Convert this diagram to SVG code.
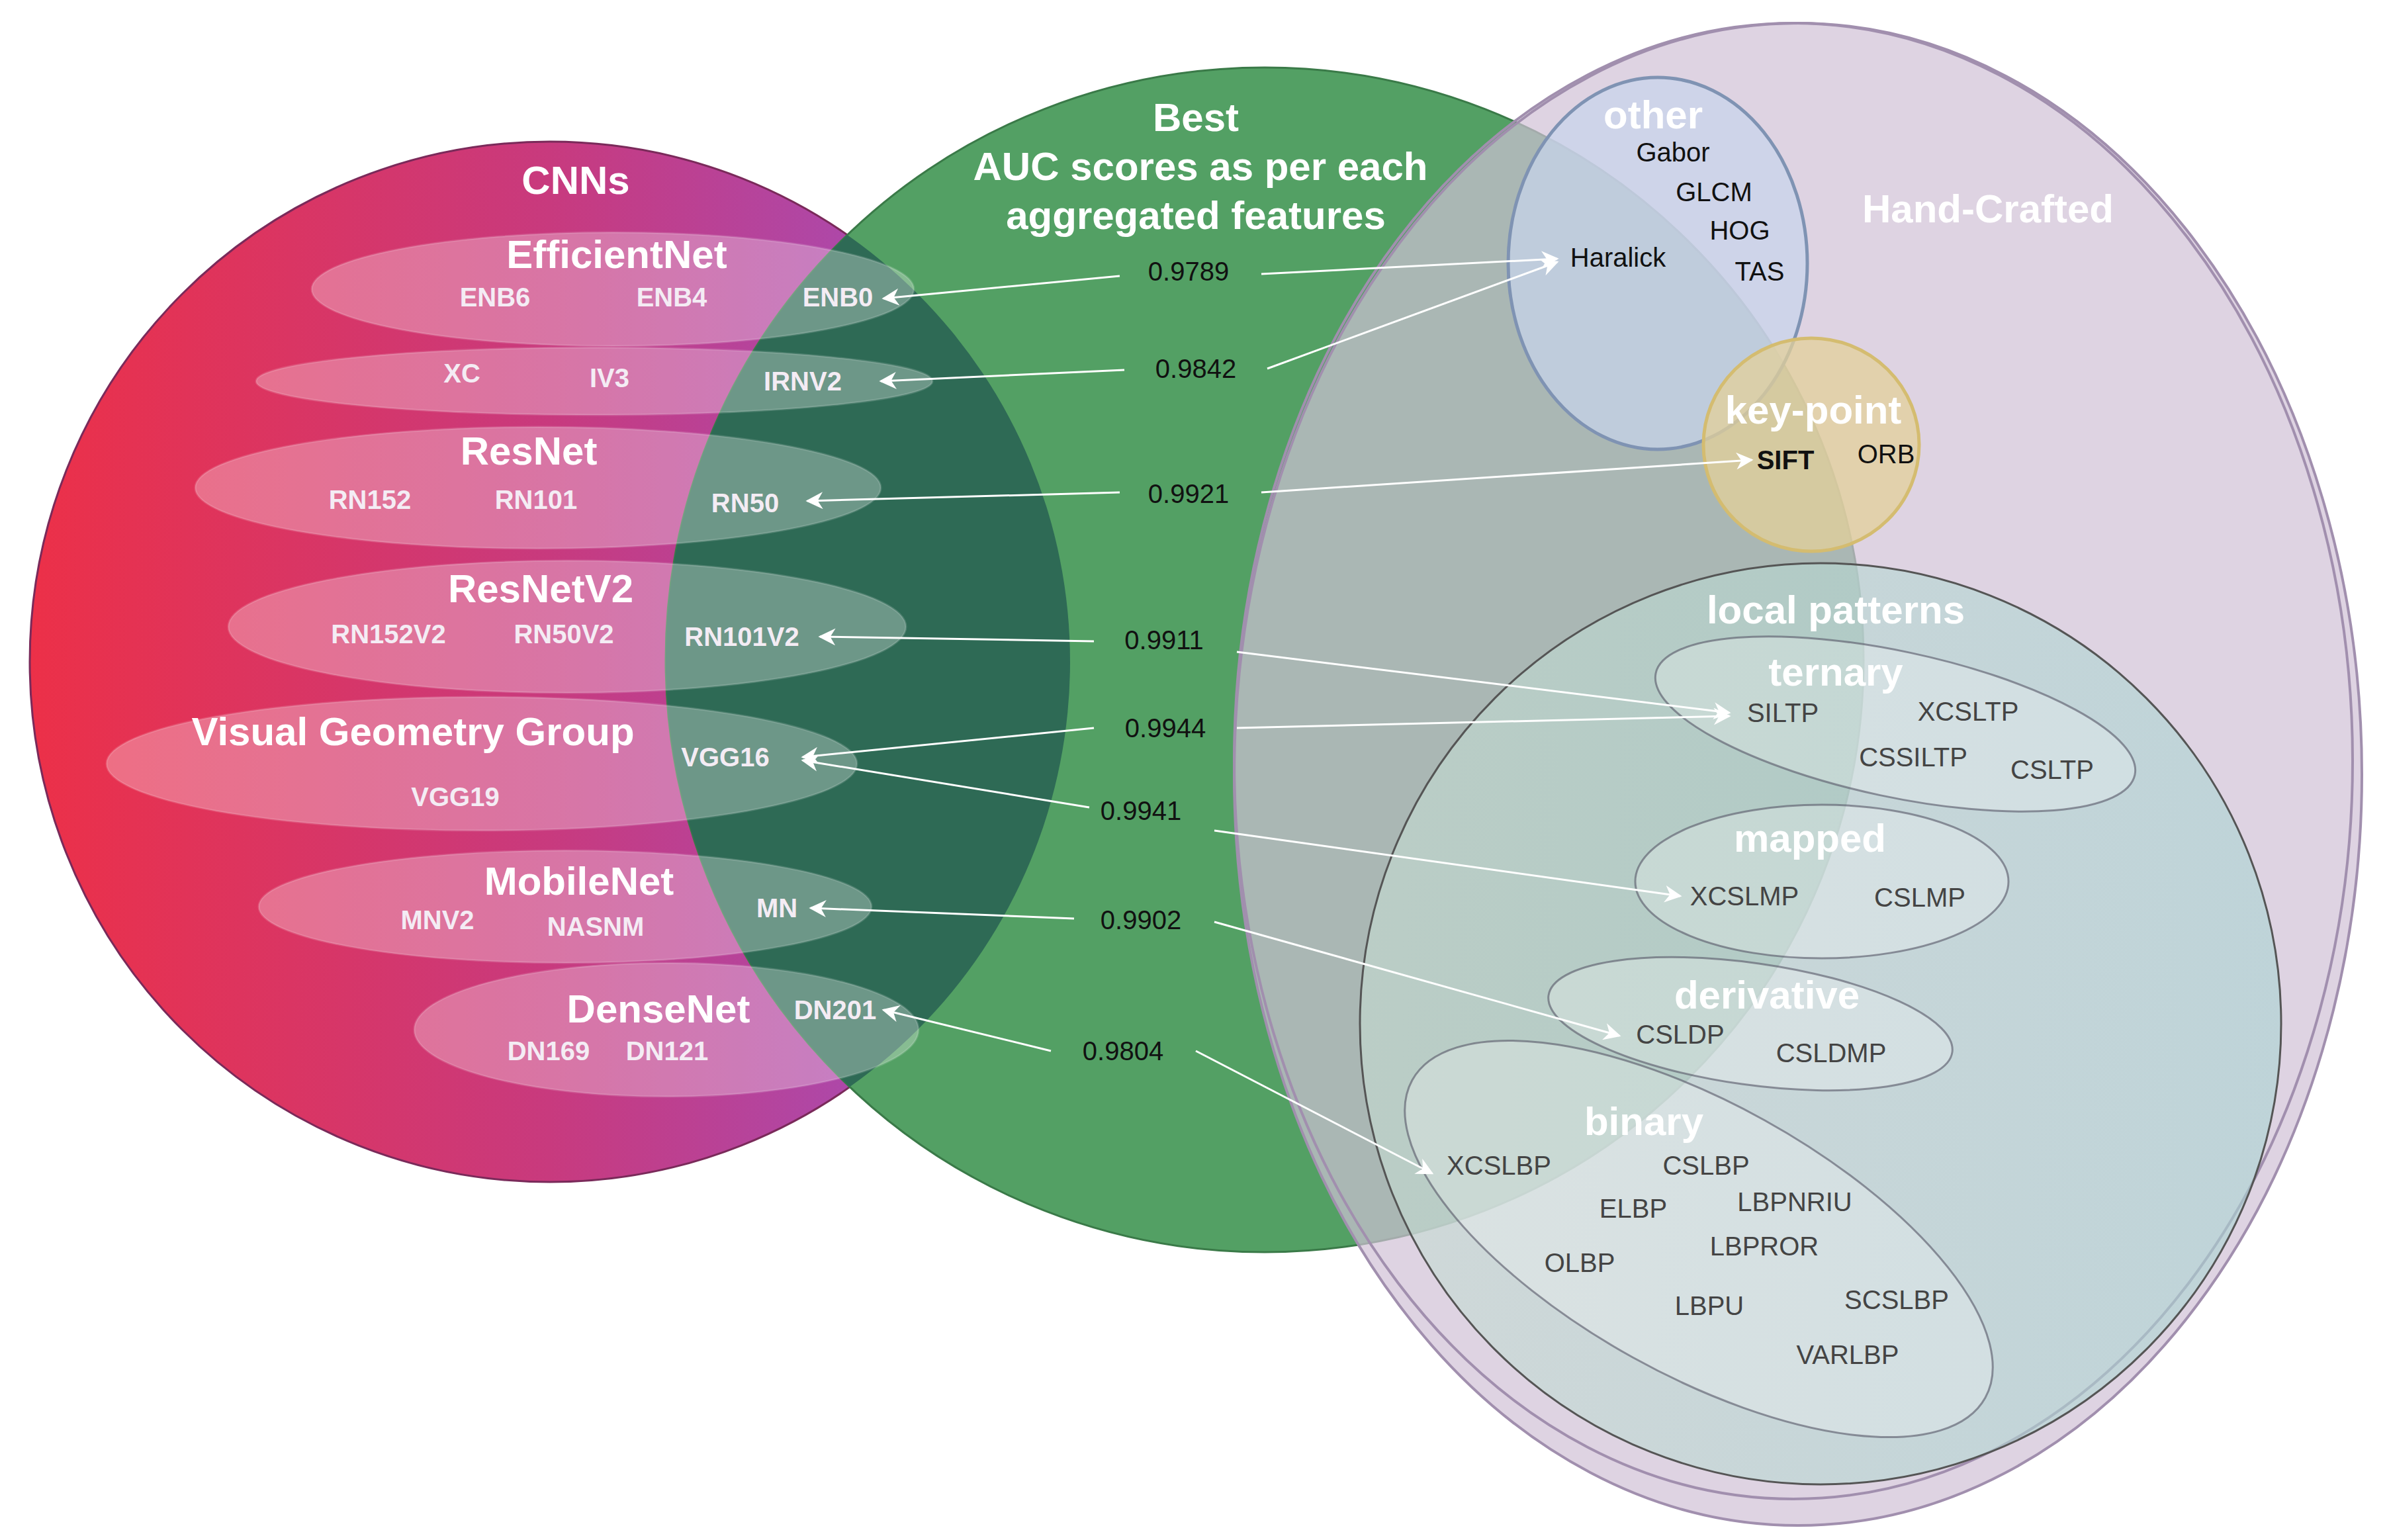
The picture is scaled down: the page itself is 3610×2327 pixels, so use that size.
<svg xmlns="http://www.w3.org/2000/svg" width="3610" height="2327" viewBox="0 0 3610 2327">
<defs>
<linearGradient id="cnnG" x1="0" x2="1" y1="0" y2="0"><stop offset="0" stop-color="#ec3048"/><stop offset="0.5" stop-color="#c83a7e"/><stop offset="1" stop-color="#9a52c8"/></linearGradient>
<linearGradient id="lpG" x1="0" x2="1" y1="0" y2="0"><stop offset="0" stop-color="#c6dcd2"/><stop offset="1" stop-color="#a9d4d2"/></linearGradient>
<clipPath id="cnnClip"><circle cx="831" cy="1000" r="786"/></clipPath>
<marker id="ah" viewBox="0 0 10 10" refX="9" refY="5" markerWidth="26" markerHeight="26" orient="auto" markerUnits="userSpaceOnUse"><path d="M0,0 L10,5 L0,10 L3,5 z" fill="#fff"/></marker>
</defs>
<style>
text{font-family:"Liberation Sans",Arial,sans-serif;text-anchor:middle;dominant-baseline:central}
.h{font-weight:bold;fill:#fff;font-size:60px}
.cn{font-weight:bold;fill:#f4ecf4;font-size:40px}
.sc{fill:#111;font-size:40px}
.bk{fill:#111;font-size:40px}
.lp{fill:#444;font-size:40px}
.in{fill:#fff;fill-opacity:0.3;stroke:#fff;stroke-opacity:0.15;stroke-width:3}
.li{fill:#fff;fill-opacity:0.25;stroke:#556;stroke-opacity:0.6;stroke-width:3}
.c line{stroke:#fff;stroke-width:3;marker-end:url(#ah)}
</style>
<rect width="3610" height="2327" fill="#fff"/>
<g id="cnns">
<circle cx="831" cy="1000" r="786" fill="url(#cnnG)" stroke="#7a2a5a" stroke-width="3"/>
</g>
<g id="best">
<ellipse cx="1911" cy="997" rx="905" ry="895" fill="#53a064" stroke="#3a7a48" stroke-width="3"/>
<ellipse cx="1911" cy="997" rx="905" ry="895" fill="#2e6a55" clip-path="url(#cnnClip)"/>
</g>
<g id="handcrafted">
<ellipse cx="2717" cy="1170" rx="852" ry="1135" fill="#d0c0d6" fill-opacity="0.7" stroke="#a18fae" stroke-width="4"/>
<ellipse cx="2710" cy="1150" rx="845" ry="1115" fill="none" stroke="#a18fae" stroke-width="4"/>
<text class="h" x="3004" y="315">Hand-Crafted</text>
</g>
<g id="other">
<ellipse cx="2505" cy="398" rx="226" ry="281" fill="#c8d4ec" fill-opacity="0.7" stroke="#7f93b3" stroke-width="5"/>
<text class="h" x="2498" y="173">other</text>
<text class="bk" x="2528" y="230">Gabor</text>
<text class="bk" x="2590" y="290">GLCM</text>
<text class="bk" x="2629" y="348">HOG</text>
<text class="bk" x="2659" y="410">TAS</text>
<text class="bk" x="2445" y="389">Haralick</text>
</g>
<g id="keypoint">
<ellipse cx="2737" cy="672" rx="163" ry="161" fill="#e3d09a" fill-opacity="0.75" stroke="#d4bc70" stroke-width="5"/>
<text class="h" x="2740" y="619">key-point</text>
<text class="bk" x="2698" y="695" font-weight="bold">SIFT</text>
<text class="bk" x="2850" y="686">ORB</text>
</g>
<g id="localpatterns">
<ellipse cx="2751" cy="1547" rx="696" ry="696" fill="url(#lpG)" fill-opacity="0.6" stroke="#555" stroke-width="3"/>
<text class="h" x="2774" y="921">local patterns</text>
</g>
<g id="ternary">
<ellipse class="li" cx="2864" cy="1094" rx="370" ry="110" transform="rotate(12 2864 1094)"/>
<text class="h" x="2774" y="1015">ternary</text>
<text class="lp" x="2694" y="1077">SILTP</text>
<text class="lp" x="2974" y="1075">XCSLTP</text>
<text class="lp" x="2891" y="1144">CSSILTP</text>
<text class="lp" x="3101" y="1163">CSLTP</text>
</g>
<g id="mapped">
<ellipse class="li" cx="2753" cy="1332" rx="282" ry="116"/>
<text class="h" x="2735" y="1266">mapped</text>
<text class="lp" x="2636" y="1354">XCSLMP</text>
<text class="lp" x="2901" y="1356">CSLMP</text>
</g>
<g id="derivative">
<ellipse class="li" cx="2645" cy="1547" rx="308" ry="92" transform="rotate(8 2645 1547)"/>
<text class="h" x="2670" y="1503">derivative</text>
<text class="lp" x="2539" y="1563">CSLDP</text>
<text class="lp" x="2767" y="1591">CSLDMP</text>
</g>
<g id="binary">
<ellipse class="li" cx="2567" cy="1872" rx="495" ry="205" transform="rotate(29 2567 1872)"/>
<text class="h" x="2484" y="1694">binary</text>
<text class="lp" x="2265" y="1761">XCSLBP</text>
<text class="lp" x="2578" y="1761">CSLBP</text>
<text class="lp" x="2468" y="1826">ELBP</text>
<text class="lp" x="2712" y="1816">LBPNRIU</text>
<text class="lp" x="2387" y="1908">OLBP</text>
<text class="lp" x="2666" y="1883">LBPROR</text>
<text class="lp" x="2583" y="1973">LBPU</text>
<text class="lp" x="2866" y="1964">SCSLBP</text>
<text class="lp" x="2792" y="2047">VARLBP</text>
</g>
<g id="cnn-labels">
<text class="h" x="870" y="272">CNNs</text>
</g>
<g id="efficientnet">
<ellipse class="in" cx="926" cy="437" rx="455" ry="86"/>
<text class="h" x="932" y="384">EfficientNet</text>
<text class="cn" x="748" y="449">ENB6</text><text class="cn" x="1015" y="449">ENB4</text><text class="cn" x="1266" y="449">ENB0</text>
</g>
<g id="inception">
<ellipse class="in" cx="898" cy="576" rx="511" ry="51"/>
<text class="cn" x="698" y="564">XC</text><text class="cn" x="921" y="571">IV3</text><text class="cn" x="1213" y="576">IRNV2</text>
</g>
<g id="resnet">
<ellipse class="in" cx="813" cy="737" rx="518" ry="92"/>
<text class="h" x="799" y="681">ResNet</text>
<text class="cn" x="559" y="755">RN152</text><text class="cn" x="810" y="755">RN101</text><text class="cn" x="1126" y="760">RN50</text>
</g>
<g id="resnetv2">
<ellipse class="in" cx="857" cy="947" rx="512" ry="100"/>
<text class="h" x="817" y="889">ResNetV2</text>
<text class="cn" x="587" y="958">RN152V2</text><text class="cn" x="852" y="958">RN50V2</text><text class="cn" x="1121" y="962">RN101V2</text>
</g>
<g id="vgg">
<ellipse class="in" cx="728" cy="1154" rx="567" ry="101"/>
<text class="h" x="624" y="1105">Visual Geometry Group</text>
<text class="cn" x="1096" y="1144">VGG16</text><text class="cn" x="688" y="1204">VGG19</text>
</g>
<g id="mobilenet">
<ellipse class="in" cx="854" cy="1370" rx="463" ry="85"/>
<text class="h" x="875" y="1331">MobileNet</text>
<text class="cn" x="661" y="1390">MNV2</text><text class="cn" x="900" y="1400">NASNM</text><text class="cn" x="1174" y="1372">MN</text>
</g>
<g id="densenet">
<ellipse class="in" cx="1007" cy="1556" rx="381" ry="101"/>
<text class="h" x="995" y="1524">DenseNet</text>
<text class="cn" x="829" y="1588">DN169</text><text class="cn" x="1008" y="1588">DN121</text><text class="cn" x="1262" y="1526">DN201</text>
</g>
<g id="scores">
<text class="h" x="1807" y="177">Best</text>
<text class="h" x="1814" y="251">AUC scores as per each</text>
<text class="h" x="1807" y="325">aggregated features</text>
<text class="sc" x="1796" y="410">0.9789</text>
<text class="sc" x="1807" y="557">0.9842</text>
<text class="sc" x="1796" y="746">0.9921</text>
<text class="sc" x="1759" y="967">0.9911</text>
<text class="sc" x="1761" y="1100">0.9944</text>
<text class="sc" x="1724" y="1225">0.9941</text>
<text class="sc" x="1724" y="1390">0.9902</text>
<text class="sc" x="1697" y="1588">0.9804</text>
</g>
<g id="connectors" class="c">
<line x1="1692" y1="417" x2="1335" y2="451"/>
<line x1="1906" y1="414" x2="2353" y2="391"/>
<line x1="1699" y1="559" x2="1331" y2="576"/>
<line x1="1915" y1="557" x2="2353" y2="396"/>
<line x1="1692" y1="744" x2="1220" y2="757"/>
<line x1="1906" y1="744" x2="2647" y2="695"/>
<line x1="1653" y1="969" x2="1239" y2="962"/>
<line x1="1869" y1="985" x2="2613" y2="1077"/>
<line x1="1653" y1="1100" x2="1213" y2="1144"/>
<line x1="1869" y1="1100" x2="2613" y2="1082"/>
<line x1="1646" y1="1220" x2="1213" y2="1149"/>
<line x1="1835" y1="1255" x2="2539" y2="1354"/>
<line x1="1623" y1="1388" x2="1225" y2="1372"/>
<line x1="1835" y1="1393" x2="2447" y2="1565"/>
<line x1="1588" y1="1588" x2="1335" y2="1526"/>
<line x1="1807" y1="1588" x2="2164" y2="1773"/>
</g>
</svg>
